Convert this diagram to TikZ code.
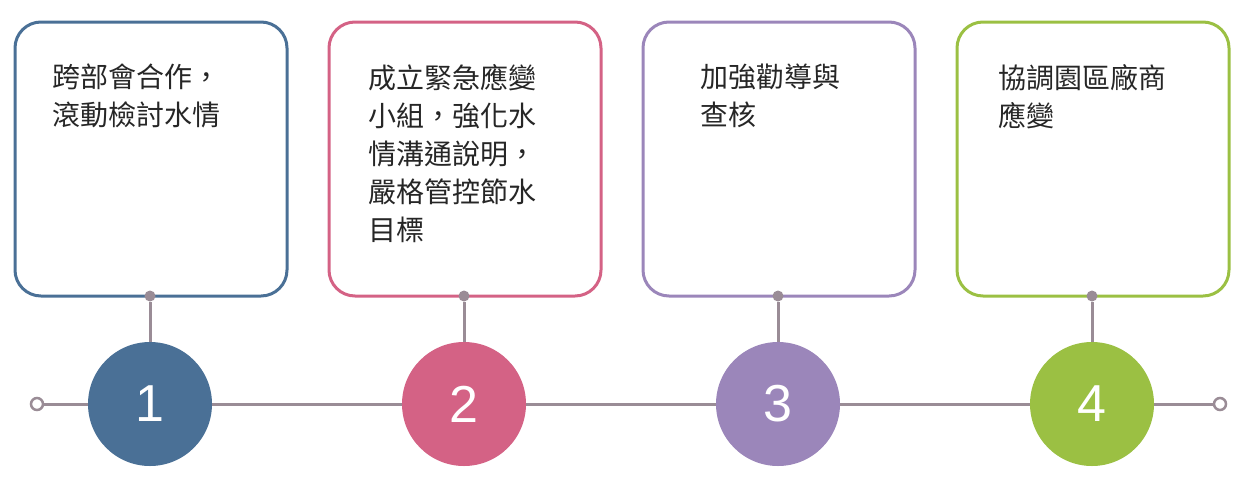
\documentclass[tikz,border=0pt]{standalone}
\usepackage{fontspec}
\newfontfamily\cjk{Noto Sans CJK TC}
\newfontfamily\numf{Liberation Sans}
\begin{document}
\begin{tikzpicture}[x=1pt,y=-1pt,
  box/.style={draw=#1,line width=3pt,rounded corners=26pt},
  txt/.style={anchor=north west,inner sep=0pt,align=left,font=\cjk\fontsize{28}{38}\selectfont,text=black!85},
  num/.style={circle,fill=#1,minimum size=124pt,inner sep=0pt,text=white,font=\numf\fontsize{52}{52}\selectfont},
  ln/.style={draw=gline,line width=3pt},
  dot/.style={circle,fill=gline,minimum size=11pt,inner sep=0pt},
  endc/.style={circle,draw=gline,fill=white,line width=2.5pt,minimum size=12pt,inner sep=0pt}]
\definecolor{gline}{HTML}{9A8C96}
\definecolor{c1}{HTML}{4A7096}
\definecolor{c2}{HTML}{D46285}
\definecolor{c3}{HTML}{9B86BA}
\definecolor{c4}{HTML}{9BC043}
\useasboundingbox (0,0) rectangle (1250,499);
\coordinate (L) at (37,404);
\coordinate (R) at (1220,404);
\draw[ln] (L) -- (R);
\node[endc] (le) at (L) {};
\node[endc] (re) at (R) {};
\foreach \i/\x/\c in {1/150/c1,2/464/c2,3/778/c3,4/1092/c4}{
  \draw[box=\c] (\x-135,22) rectangle (\x+137,296);
  \node[dot] (d\i) at (\x,296) {};
  \node[num=\c] (n\i) at (\x,404) {\i};
  \draw[ln] (d\i) -- (n\i);
}
\node[txt] (t1) at (52,64) {跨部會合作，\\滾動檢討水情};
\node[txt] (t2) at (368,64) {成立緊急應變\\小組，強化水\\情溝通說明，\\嚴格管控節水\\目標};
\node[txt] (t3) at (700,64) {加強勸導與\\查核};
\node[txt] (t4) at (998,64) {協調園區廠商\\應變};
\end{tikzpicture}
\end{document}
